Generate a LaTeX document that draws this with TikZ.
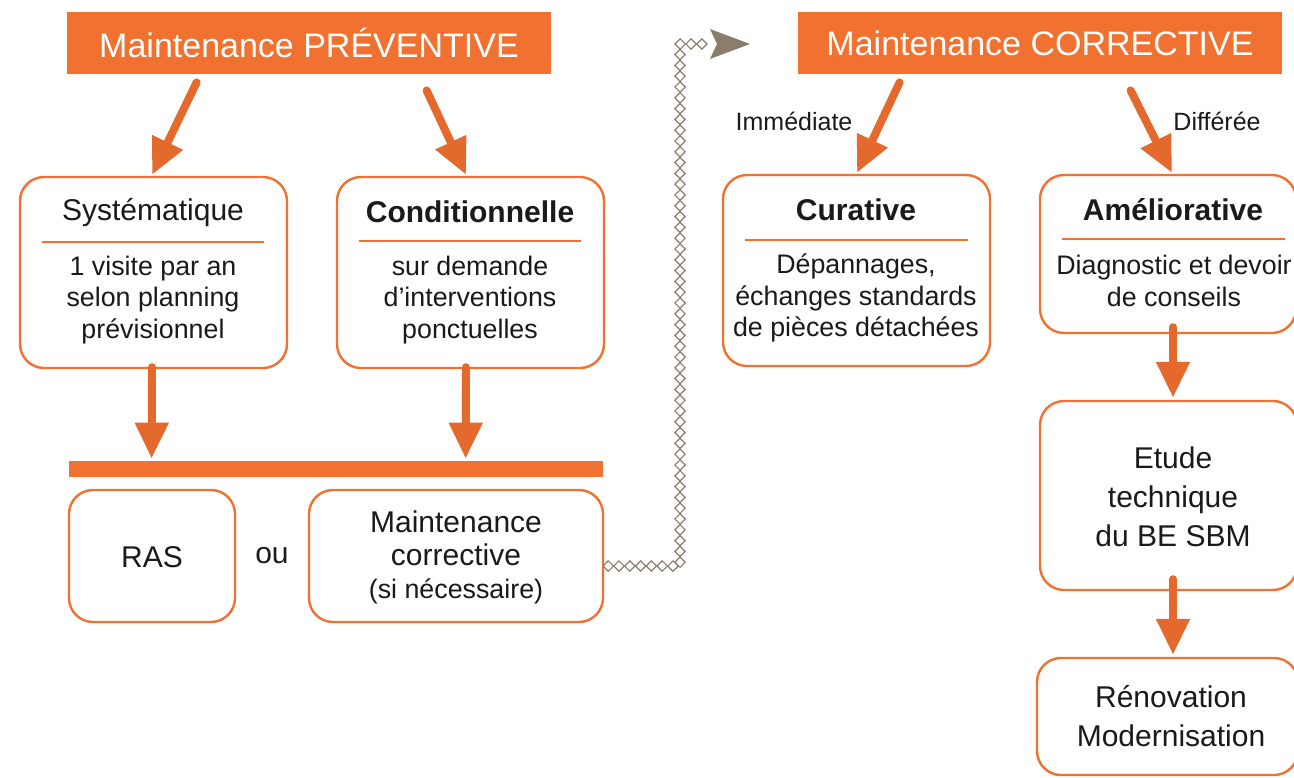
\documentclass[tikz,border=0pt]{standalone}
\usepackage{fontspec}
\setmainfont{Liberation Sans}
\usetikzlibrary{arrows.meta,shapes.geometric,decorations.markings,calc}
\definecolor{orng}{HTML}{F07130}
\definecolor{arr}{HTML}{E4692C}
\definecolor{chain}{HTML}{8C7C6C}
\definecolor{ink}{HTML}{1A1A1A}
\begin{document}
\begin{tikzpicture}[x=0.5pt,y=-0.5pt,
  box/.style={draw=orng, line width=1.2pt, rounded corners=12pt, fill=white, inner sep=0pt},
  hdr/.style={fill=orng, text=white, inner sep=0pt, font=\fontsize{17}{20}\selectfont},
  ttl/.style={text=ink, font=\fontsize{15}{18}\selectfont},
  bttl/.style={text=ink, font=\bfseries\fontsize{15}{18}\selectfont},
  bdy/.style={text=ink, font=\fontsize{13.4}{15.75}\selectfont, align=center},
  big/.style={text=ink, font=\fontsize{15}{19.5}\selectfont, align=center},
  lbl/.style={text=ink, font=\fontsize{12.5}{15}\selectfont},
  oarrow/.style={draw=arr, line width=4pt, line cap=round, -{Triangle[length=18pt,width=16pt]}},
  rulel/.style={draw=orng, line width=1pt},
  chainpath/.style={postaction={decorate}, decoration={markings,
     mark=between positions 0 and 1 step 5.4pt with {\node[diamond, draw=chain, line width=0.6pt, inner sep=0pt, minimum size=5.4pt] {};}}}]
\useasboundingbox (0,0) rectangle (1294,777);

% headers
\node[hdr, minimum width=242pt, minimum height=31pt] (hdrP) at (309,43) {Maintenance PRÉVENTIVE};
\node[hdr, minimum width=242pt, minimum height=31pt] (hdrC) at (1040,43) {Maintenance CORRECTIVE};

% preventive boxes
\node[box, minimum width=133.5pt, minimum height=95.5pt] (sys) at (153.5,272.5) {};
\node[ttl] (sysT) at (153,213) {Systématique};
\draw[rulel] (42,242) -- (264,242);
\node[bdy] (sysB) at (153,300) {1 visite par an\\selon planning\\prévisionnel};

\node[box, minimum width=133.5pt, minimum height=95.5pt] (cond) at (470.5,272.5) {};
\node[bttl] (condT) at (470,212) {Conditionnelle};
\draw[rulel] (359,241) -- (581,241);
\node[bdy] (condB) at (470,300) {sur demande\\d’interventions\\ponctuelles};

% bar and results
\node[fill=orng, minimum width=267pt, minimum height=8pt, inner sep=0pt] (bar) at (336,469) {};
\node[box, minimum width=83pt, minimum height=66pt] (ras) at (152,556) {};
\node[big] (rasT) at (152,557) {RAS};
\node[big] (ou) at (272,556) {ou};
\node[box, minimum width=147pt, minimum height=66pt] (mc) at (456,556) {};
\node[big] (mcT1) at (456,522) {Maintenance};
\node[big] (mcT2) at (456,555) {corrective};
\node[bdy] (mcT3) at (456,591) {(si nécessaire)};

% corrective boxes
\node[box, minimum width=133.5pt, minimum height=95.5pt] (cur) at (856.5,270.5) {};
\node[bttl] (curT) at (856,210) {Curative};
\draw[rulel] (745,240) -- (968,240);
\node[bdy] (curB) at (856,298) {Dépannages,\\échanges standards\\de pièces détachées};

\node[box, minimum width=128pt, minimum height=79pt] (ame) at (1168,254) {};
\node[bttl] (ameT) at (1173,210) {Améliorative};
\draw[rulel] (1062,239) -- (1285,239);
\node[bdy] (ameB) at (1174,281) {Diagnostic et devoir\\de conseils};

\node[box, minimum width=128.5pt, minimum height=94.5pt] (etude) at (1168.5,495.5) {};
\node[big] (etudeT) at (1173,497) {Etude\\technique\\du BE SBM};

\node[box, minimum width=130.5pt, minimum height=58.5pt] (reno) at (1167.5,716.5) {};
\node[big] (renoT) at (1171,716) {Rénovation\\Modernisation};

% labels
\node[lbl] (imm) at (794,121) {Immédiate};
\node[lbl] (diff) at (1217,121) {Différée};

% orange arrows
\draw[oarrow] ([shift={(130,8)}]hdrP.south west) -- ([shift={(-1.5,-1)}]sys.north);
\draw[oarrow] ([shift={(360,16)}]hdrP.south west) -- ([shift={(-4.5,-1)}]cond.north);
\draw[oarrow] ([shift={(102,8)}]hdrC.south west) -- ([shift={(0.5,-1)}]cur.north);
\draw[oarrow] ([shift={(333,16)}]hdrC.south west) -- ([shift={(4,-1)}]ame.north);
\draw[oarrow] ([shift={(-1.5,-2)}]sys.south) -- ([shift={(83,-2)}]bar.north west);
\draw[oarrow] ([shift={(-4.5,-2)}]cond.south) -- ([shift={(397,-2)}]bar.north west);
\draw[oarrow] ([shift={(5,-7)}]ame.south) -- ([shift={(4.5,-2)}]etude.north);
\draw[oarrow] ([shift={(4.5,-12)}]etude.south) -- ([shift={(5.5,-2)}]reno.north);

% chain connector
\coordinate (ccorner) at (680,44);
\coordinate (ctail) at (712,44);
\coordinate (ctip) at (750,44);
\path[chainpath] ([shift={(4,10)}]mc.east) -| (ccorner) -- (ctail);
\fill[chain] (ctip) -- ++(-40,-15) -- ++(7,15) -- ++(-7,15) -- cycle;
\end{tikzpicture}
\end{document}
